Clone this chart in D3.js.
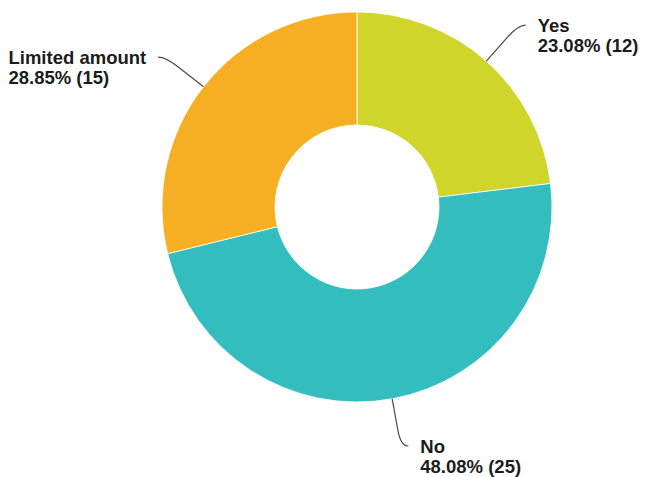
<!DOCTYPE html>
<html>
<head>
<meta charset="utf-8">
<script src="https://cdn.jsdelivr.net/npm/d3@7"></script>
<style>
  html, body { margin: 0; padding: 0; background: #fff; }
  svg { display: block; }
  .lbl { font-family: "Liberation Sans", Arial, sans-serif; font-weight: bold; font-size: 18.5px; fill: #1c1c1c; }
</style>
</head>
<body>
<svg id="chart" width="648" height="477"></svg>
<script>
// Answers and counts, drawn clockwise from 12 o'clock
const categories = ["Yes", "No", "Limited amount"];
const counts = [12, 25, 15];
const percentLabels = ["23.08%", "48.08%", "28.85%"];
const colors = ["#CFD52A", "#34BDBE", "#F6AF22"];

const cx = 357, cy = 207;
const outerR = 195, innerR = 82;
const bendR = 243;      // radius where a leader line turns horizontal
const tailLen = 7.5;    // horizontal run at the end of a leader line
const textGap = 12;     // space between a leader line and its label
const lineGap = 20.5;   // distance between the two label lines

const svg = d3.select("#chart");
const g = svg.append("g").attr("transform", `translate(${cx},${cy})`);

const data = categories.map((c, i) => ({ name: c, value: counts[i], pct: percentLabels[i], color: colors[i] }));

const pie = d3.pie().value(d => d.value).sort(null);
const arc = d3.arc().innerRadius(innerR).outerRadius(outerR);
const arcs = pie(data);

g.selectAll("path.slice")
  .data(arcs)
  .join("path")
  .attr("class", "slice")
  .attr("d", arc)
  .attr("fill", d => d.data.color)
  .attr("stroke", "#fff")
  .attr("stroke-width", 0.8);

// point on a ray at a given radius (angle measured clockwise from top)
const polar = (a, r) => [r * Math.sin(a), -r * Math.cos(a)];

arcs.forEach(d => {
  const mid = (d.startAngle + d.endAngle) / 2;
  const side = Math.sin(mid) >= 0 ? 1 : -1;
  const p0 = polar(mid, outerR);
  const p1 = polar(mid, bendR - 16);
  const pc = polar(mid, bendR);
  const pe = [pc[0] + side * tailLen, pc[1]];

  const path = d3.path();
  path.moveTo(p0[0], p0[1]);
  path.lineTo(p1[0], p1[1]);
  path.quadraticCurveTo(pc[0], pc[1], pe[0], pe[1]);
  g.append("path")
    .attr("d", path.toString())
    .attr("fill", "none")
    .attr("stroke", "#4a4a4a")
    .attr("stroke-width", 1.2);

  // two left-aligned lines; on the left side the block ends before the line
  const t = g.append("text")
    .attr("class", "lbl")
    .attr("y", pe[1] + 6.5);
  const l1 = t.append("tspan").text(d.data.name);
  const l2 = t.append("tspan").attr("dy", lineGap).text(`${d.data.pct} (${d.data.value})`);
  const w = Math.max(l1.node().getComputedTextLength(), l2.node().getComputedTextLength());
  const tx = side > 0 ? pe[0] + textGap : pe[0] - textGap - w;
  l1.attr("x", tx);
  l2.attr("x", tx);
});
</script>
</body>
</html>
